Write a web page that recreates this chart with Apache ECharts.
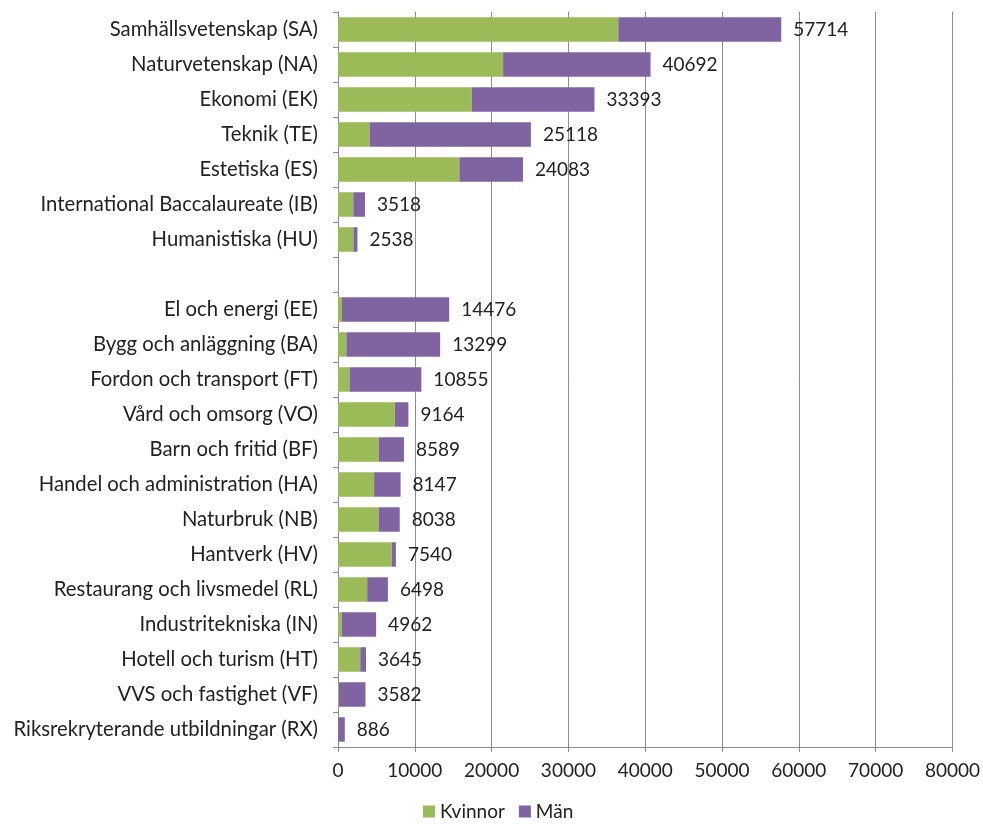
<!DOCTYPE html>
<html>
<head>
<meta charset="utf-8">
<script src="https://cdn.jsdelivr.net/npm/echarts@6/dist/echarts.min.js"></script>
<style>
  html, body { margin: 0; padding: 0; background: #fff; }
  #container { width: 983px; height: 827px; }
</style>
</head>
<body>
<div id="container"></div>
<script>
// program, uppifrån och ned (tom rad mellan högskoleförberedande och yrkesprogram)
var programs = [
    'Samhällsvetenskap (SA)', 'Naturvetenskap (NA)', 'Ekonomi (EK)', 'Teknik (TE)',
    'Estetiska (ES)', 'International Baccalaureate (IB)', 'Humanistiska (HU)', '',
    'El och energi (EE)', 'Bygg och anläggning (BA)', 'Fordon och transport (FT)',
    'Vård och omsorg (VO)', 'Barn och fritid (BF)', 'Handel och administration (HA)',
    'Naturbruk (NB)', 'Hantverk (HV)', 'Restaurang och livsmedel (RL)',
    'Industritekniska (IN)', 'Hotell och turism (HT)', 'VVS och fastighet (VF)',
    'Riksrekryterande utbildningar (RX)'
];
var kvinnor = [36500, 21500, 17400, 4100, 15800, 2000, 2000, null,
    520, 1100, 1500, 7400, 5300, 4700, 5300, 7000, 3800, 500, 2900, 120, 40];
var man = [21214, 19192, 15993, 21018, 8283, 1518, 538, null,
    13956, 12199, 9355, 1764, 3289, 3447, 2738, 540, 2698, 4462, 745, 3462, 846];
var totals = [57714, 40692, 33393, 25118, 24083, 3518, 2538, null,
    14476, 13299, 10855, 9164, 8589, 8147, 8038, 7540, 6498, 4962, 3645, 3582, 886];

var myChart = echarts.init(document.getElementById('container'));
var font = 'Lato, "Open Sans", sans-serif';

var option = {
    animation: false,
    textStyle: { fontFamily: font },
    legend: {
        data: ['Kvinnor', 'Män'],
        bottom: 1,
        left: 418,
        itemWidth: 12,
        itemHeight: 12,
        itemGap: 14,
        icon: 'rect',
        textStyle: { fontSize: 19, color: '#222', fontFamily: font }
    },
    grid: {
        left: 338,
        right: 30,
        top: 12,
        bottom: 80
    },
    xAxis: {
        type: 'value',
        min: 0,
        max: 80000,
        interval: 10000,
        axisLine: { show: true, lineStyle: { color: '#8c8c8c' } },
        axisTick: { show: true, length: 5, lineStyle: { color: '#8c8c8c' } },
        axisLabel: {
            fontSize: 19, color: '#222', margin: 14, fontFamily: font,
            formatter: function (v) { return String(v); }
        },
        splitLine: { show: true, lineStyle: { color: '#8c8c8c', width: 1 } }
    },
    yAxis: {
        type: 'category',
        inverse: true,
        data: programs,
        axisLine: { show: true, lineStyle: { color: '#8c8c8c' } },
        axisTick: { show: true, length: 5, lineStyle: { color: '#8c8c8c' } },
        axisLabel: { fontSize: 20.3, color: '#222', margin: 20, fontFamily: font }
    },
    series: [
        {
            name: 'Kvinnor',
            type: 'bar',
            stack: 'tot',
            barWidth: '70%',
            itemStyle: { color: '#9bbb59' },
            data: kvinnor
        },
        {
            name: 'Män',
            type: 'bar',
            stack: 'tot',
            barWidth: '70%',
            itemStyle: { color: '#8064a2' },
            label: {
                show: true,
                position: 'right',
                distance: 12,
                fontSize: 19,
                color: '#222',
                fontFamily: font,
                formatter: function (p) {
                    var t = totals[p.dataIndex];
                    return t == null ? '' : String(t);
                }
            },
            data: man
        }
    ]
};
myChart.setOption(option);
</script>
</body>
</html>
